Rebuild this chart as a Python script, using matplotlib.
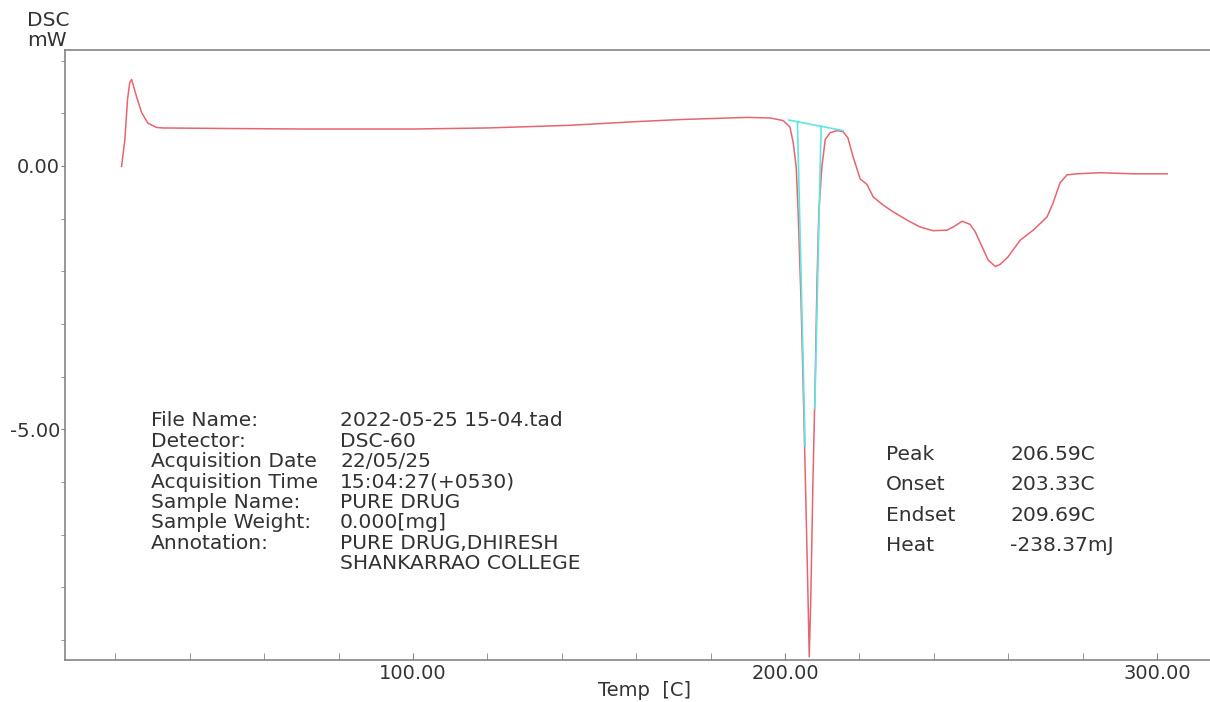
import matplotlib
matplotlib.use("Agg")
import matplotlib.pyplot as plt
from matplotlib.ticker import MultipleLocator, FixedLocator

# DSC thermogram (temperature in C, heat flow in mW)
temp = [21.7, 22.6, 23.3, 23.9, 24.4, 25.7, 27.1, 28.8, 31.1, 32.8,
        50.0, 70.0, 100.0, 120.0, 142.0, 160.0, 172.0, 185.0, 190.0, 196.0,
        199.5, 201.3, 202.2, 203.0, 203.5, 204.3, 205.1, 205.6, 206.2, 206.5,
        206.9, 207.5, 208.1, 208.6, 209.1, 209.9, 210.8, 212.1, 214.0, 215.6,
        216.9, 218.3, 220.2, 222.0, 223.7, 226.3, 229.0, 232.8, 236.3, 239.8,
        243.5, 245.2, 247.6, 249.7, 251.1, 252.4, 254.6, 256.5, 257.8, 259.9,
        263.2, 266.7, 270.4, 272.0, 273.9, 275.8, 278.5, 284.7, 293.5, 302.7]
dsc = [-0.01, 0.50, 1.26, 1.58, 1.64, 1.32, 1.01, 0.81, 0.73, 0.72,
       0.71, 0.70, 0.70, 0.72, 0.77, 0.84, 0.88, 0.91, 0.92, 0.91,
       0.86, 0.74, 0.44, -0.02, -0.84, -2.56, -4.85, -6.37, -8.28, -9.32,
       -8.28, -5.99, -4.08, -2.18, -0.84, -0.02, 0.50, 0.63, 0.67, 0.65,
       0.53, 0.17, -0.25, -0.35, -0.59, -0.74, -0.87, -1.03, -1.16, -1.23,
       -1.22, -1.16, -1.05, -1.11, -1.25, -1.45, -1.79, -1.91, -1.87, -1.73,
       -1.41, -1.22, -0.97, -0.71, -0.32, -0.17, -0.15, -0.13, -0.15, -0.15]

# Peak analysis construction: baseline and the two tangent lines
baseline_t = [201.0, 215.6]
baseline_v = [0.87, 0.67]
onset_t = [203.33, 205.4]
onset_v = [0.84, -5.32]
endset_t = [209.69, 208.0]
endset_v = [0.75, -4.6]

info_keys = ["File Name:", "Detector:", "Acquisition Date", "Acquisition Time",
             "Sample Name:", "Sample Weight:", "Annotation:", ""]
info_vals = ["2022-05-25 15-04.tad", "DSC-60", "22/05/25", "15:04:27(+0530)",
             "PURE DRUG", "0.000[mg]", "PURE DRUG,DHIRESH", "SHANKARRAO COLLEGE"]
peak_keys = ["Peak", "Onset", "Endset", "Heat"]
peak_vals = ["206.59C", "203.33C", "209.69C", "-238.37mJ"]

plt.rcParams["font.family"] = ["DejaVu Sans"]
txt = "#333333"
axc = "#858585"
fs = 14
fs_info = 14.6

fig = plt.figure(figsize=(12.1, 7.02), dpi=100)
ax = fig.add_axes([65 / 1210, 1 - 660 / 702, 1 - 65 / 1210, 610 / 702])

ax.plot(temp, dsc, color="#e8646e", lw=1.1, zorder=3)
ax.plot(baseline_t, baseline_v, color="#5ee6e6", lw=1.2, zorder=4)
ax.plot(onset_t, onset_v, color="#5ee6e6", lw=1.2, zorder=4)
ax.plot(endset_t, endset_v, color="#5ee6e6", lw=1.2, zorder=4)

ax.set_xlim(6.5, 314.2)
ax.set_ylim(-9.38, 2.2)

ax.xaxis.set_major_locator(FixedLocator([100, 200, 300]))
ax.xaxis.set_minor_locator(MultipleLocator(20))
ax.yaxis.set_major_locator(FixedLocator([0, -5]))
ax.yaxis.set_minor_locator(MultipleLocator(1))
ax.set_xticklabels(["100.00", "200.00", "300.00"])
ax.set_yticklabels(["0.00", "-5.00"])

ax.tick_params(axis="x", which="both", direction="in", length=5, color=axc,
               labelsize=fs, labelcolor=txt, pad=3)
ax.tick_params(axis="y", which="both", direction="out", length=3, color=axc,
               labelsize=fs, labelcolor=txt, pad=0.5)
for side in ["left", "bottom", "top"]:
    ax.spines[side].set_color(axc)
    ax.spines[side].set_linewidth(1.2)
ax.spines["right"].set_visible(False)

fig.text(27 / 1210, 1 - 21 / 702, "DSC", ha="left", va="center", fontsize=14.5, color=txt)
fig.text(27 / 1210, 1 - 40 / 702, "mW", ha="left", va="center", fontsize=14.5, color=txt)
fig.text(644 / 1210, 1 - 691 / 702, "Temp  [C]", ha="center", va="center", fontsize=fs, color=txt)

# Measurement information block
y0, dy = 421, 20.4
for i, (k, v) in enumerate(zip(info_keys, info_vals)):
    y = 1 - (y0 + i * dy) / 702
    fig.text(151 / 1210, y, k, ha="left", va="center", fontsize=fs_info, color=txt)
    fig.text(340 / 1210, y, v, ha="left", va="center", fontsize=fs_info, color=txt)

# Peak results block
y0, dy = 454, 30.6
for i, (k, v) in enumerate(zip(peak_keys, peak_vals)):
    y = 1 - (y0 + i * dy) / 702
    fig.text(886 / 1210, y, k, ha="left", va="center", fontsize=fs_info, color=txt)
    fig.text(1010 / 1210, y, v, ha="left", va="center", fontsize=fs_info, color=txt)

fig.savefig("out.png", dpi=100, facecolor="white")
